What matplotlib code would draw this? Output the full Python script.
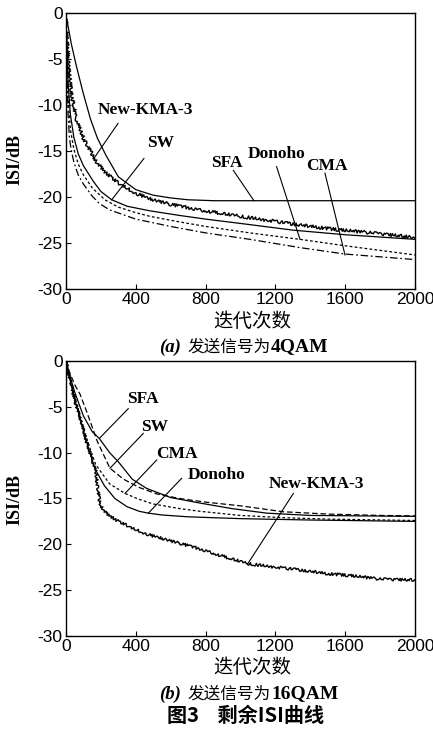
import matplotlib
matplotlib.use("Agg")
from matplotlib import pyplot as plt

plt.rcParams['axes.unicode_minus'] = False
plt.rcParams['font.family'] = ['Liberation Sans', 'DejaVu Sans']

LABEL_FONT = ['Liberation Serif', 'Noto Sans CJK SC']
CJK_FONT = ['Noto Sans CJK SC', 'Liberation Serif']

# ---- (a) 4QAM ----
x_sfa_a = [0, 10, 30, 60, 100, 140, 180, 230, 300, 400, 500, 600, 700, 850, 2000]
y_sfa_a = [-0.3, -1.2, -3.3, -5.8, -8.8, -11.5, -13.6, -15.5, -17.8, -19.2, -19.8, -20.1, -20.3, -20.4, -20.4]

x_kma_a = [0, 8, 16, 30, 60, 100, 140, 176, 230, 300, 400, 481, 600, 768, 1000, 1250, 1532, 1750, 2000]
y_kma_a = [-0.5, -3, -6, -8.6, -11.6, -13.6, -15.0, -16.2, -17.4, -18.5, -19.6, -20.2, -20.8, -21.4, -22.1,
           -22.8, -23.5, -23.9, -24.4]

x_sw_a = [0, 5, 12, 25, 45, 70, 100, 157, 200, 262, 350, 481, 650, 800, 1054, 1300, 1600, 2000]
y_sw_a = [-0.5, -3.5, -7.5, -11, -13.5, -15.3, -16.6, -18.3, -19.4, -20.3, -21.0, -21.5, -22.0, -22.4, -23.0,
          -23.6, -24.1, -24.6]

x_don_a = [0, 5, 12, 25, 45, 70, 100, 150, 223, 300, 400, 481, 650, 800, 1054, 1341, 1600, 2000]
y_don_a = [-0.8, -4.5, -9, -12.6, -14.8, -16.4, -17.6, -19.0, -20.3, -21.1, -21.7, -22.1, -22.7, -23.2, -23.9,
           -24.6, -25.3, -26.3]

x_cma_a = [0, 5, 12, 20, 29, 45, 70, 100, 150, 191, 250, 400, 600, 800, 1054, 1341, 1599, 2000]
y_cma_a = [-1, -6, -11, -13.6, -14.8, -16.2, -17.6, -18.6, -19.9, -20.7, -21.4, -22.4, -23.2, -23.9, -24.6,
           -25.5, -26.2, -26.8]

# ---- (b) 16QAM ----
x_sfa_b = [0, 20, 50, 100, 150, 191, 250, 300, 380, 462, 600, 768, 950, 1150, 1400, 1700, 2000]
y_sfa_b = [0, -1.5, -3.4, -6.0, -7.7, -8.45, -10.0, -11.0, -12.9, -13.9, -14.9, -15.5, -16.1, -16.6, -16.85,
           -16.9, -16.95]

x_sw_b = [0, 20, 50, 80, 120, 180, 252, 330, 420, 520, 650, 800, 1000, 1246, 1500, 1800, 2000]
y_sw_b = [0, -1.2, -2.6, -3.6, -5.6, -8.8, -11.7, -12.9, -13.8, -14.5, -15.0, -15.4, -15.8, -16.45, -16.7,
          -16.85, -16.9]

x_cma_b = [0, 20, 50, 90, 128, 170, 250, 338, 420, 500, 650, 768, 1000, 1250, 1500, 2000]
y_cma_b = [0, -1.6, -3.8, -6.8, -9.0, -11.3, -13.4, -14.45, -15.1, -15.6, -16.1, -16.4, -16.85, -17.1, -17.25,
           -17.4]

x_don_b = [0, 20, 50, 100, 140, 170, 220, 280, 350, 420, 472, 550, 700, 1000, 1400, 2000]
y_don_b = [0, -1.8, -4.2, -7.6, -10.2, -11.9, -13.6, -15.0, -15.9, -16.4, -16.6, -16.8, -17.0, -17.2, -17.35,
           -17.5]

x_kma_b = [0, 20, 50, 100, 140, 170, 180, 190, 200, 230, 290, 386, 480, 577, 768, 900, 1039, 1200, 1341, 1500,
           1627, 1800, 2000]
y_kma_b = [0, -1.8, -4.2, -7.6, -10.2, -12.0, -13.5, -15.0, -15.8, -16.6, -17.4, -18.3, -19.0, -19.5, -20.5,
           -21.3, -22.1, -22.5, -22.8, -23.2, -23.4, -23.8, -23.9]

xticks = [0, 400, 800, 1200, 1600, 2000]
yticks = [0, -5, -10, -15, -20, -25, -30]

# curve labels: text, text position, leader line start, leader line end
labels_a = [
    ('New-KMA-3', (458, -10.5), (298, -12.0), (160, -15.8)),
    ('SW', (544, -14.1), (447, -15.8), (262, -20.3)),
    ('SFA', (921, -16.3), (959, -17.1), (1077, -20.4)),
    ('Donoho', (1207, -15.3), (1207, -16.7), (1341, -24.6)),
    ('CMA', (1494, -16.6), (1484, -17.4), (1599, -26.3)),
]
labels_b = [
    ('SFA', (443, -4.1), (357, -5.2), (191, -8.45)),
    ('SW', (510, -7.2), (443, -7.9), (252, -11.7)),
    ('CMA', (634, -10.1), (520, -10.8), (338, -14.45)),
    ('Donoho', (863, -12.45), (663, -12.8), (472, -16.6)),
    ('New-KMA-3', (1436, -13.4), (1303, -14.45), (1039, -22.2)),
]

LW = 0.9
DOTTED = (0, (2.2, 1.8))
DASHDOT = (0, (6, 2.2, 1.4, 2.2))
DASHED = (0, (4.5, 2.2))


def setup_axes(ax):
    ax.set_xlim(0, 2000)
    ax.set_ylim(-30, 0)
    ax.set_xticks(xticks)
    ax.set_yticks(yticks)
    ax.tick_params(direction='in', length=3.5, width=0.8, labelsize=12.5, pad=2.5,
                   top=False, right=False)
    for s in ax.spines.values():
        s.set_linewidth(1.0)


def noisy(line, scale):
    line.set_sketch_params(scale=scale, length=1.2, randomness=3)


def add_labels(ax, labels):
    for text, (tx, ty), (x0, y0), (x1, y1) in labels:
        ax.text(tx, ty, text, ha='center', va='center', fontsize=12.5, fontweight='bold',
                family=LABEL_FONT)
        ax.plot([x0, x1], [y0, y1], color='black', lw=0.8)


fig = plt.figure(figsize=(4.33, 7.30), dpi=100)

ax1 = fig.add_axes([0.1524, 0.6041, 0.806, 0.378])
ax1.plot(x_sfa_a, y_sfa_a, color='black', lw=LW)
ax1.plot(x_sw_a, y_sw_a, color='black', lw=LW)
ax1.plot(x_don_a, y_don_a, color='black', lw=LW, linestyle=DOTTED)
ax1.plot(x_cma_a, y_cma_a, color='black', lw=LW, linestyle=DASHDOT)
kma_a, = ax1.plot(x_kma_a, y_kma_a, color='black', lw=1.0)
noisy(kma_a, 1.6)
setup_axes(ax1)
add_labels(ax1, labels_a)

ax2 = fig.add_axes([0.1524, 0.1288, 0.806, 0.3767])
ax2.plot(x_sfa_b, y_sfa_b, color='black', lw=LW)
ax2.plot(x_sw_b, y_sw_b, color='black', lw=LW, linestyle=DASHED)
ax2.plot(x_cma_b, y_cma_b, color='black', lw=LW, linestyle=DOTTED)
ax2.plot(x_don_b, y_don_b, color='black', lw=LW)
kma_b, = ax2.plot(x_kma_b, y_kma_b, color='black', lw=1.0)
noisy(kma_b, 1.4)
setup_axes(ax2)
add_labels(ax2, labels_b)

# axis titles
for yc in (0.782, 0.3164):
    fig.text(0.035, yc, 'ISI/dB', rotation=90, ha='center', va='center',
             fontsize=13, fontweight='bold', family=LABEL_FONT)
fig.text(0.582, 0.559, '迭代次数', ha='center', va='center', fontsize=14, family=CJK_FONT)
fig.text(0.582, 0.085, '迭代次数', ha='center', va='center', fontsize=14, family=CJK_FONT)


def caption(y, tag, tail):
    fig.text(0.367, y, tag, ha='left', va='center', fontsize=13.5, fontweight='bold',
             fontstyle='italic', family=LABEL_FONT)
    fig.text(0.434, y, '发送信号为', ha='left', va='center', fontsize=12, family=CJK_FONT)
    fig.text(0.626, y, tail, ha='left', va='center', fontsize=14, fontweight='bold',
             family=LABEL_FONT)


caption(0.5247, '(a)', '4QAM')
caption(0.0493, '(b)', '16QAM')

fig.text(0.568, 0.0205, '图3    剩余ISI曲线', ha='center', va='center', fontsize=14.5,
         fontweight='bold', family=CJK_FONT)

fig.savefig('out.png', dpi=100)
